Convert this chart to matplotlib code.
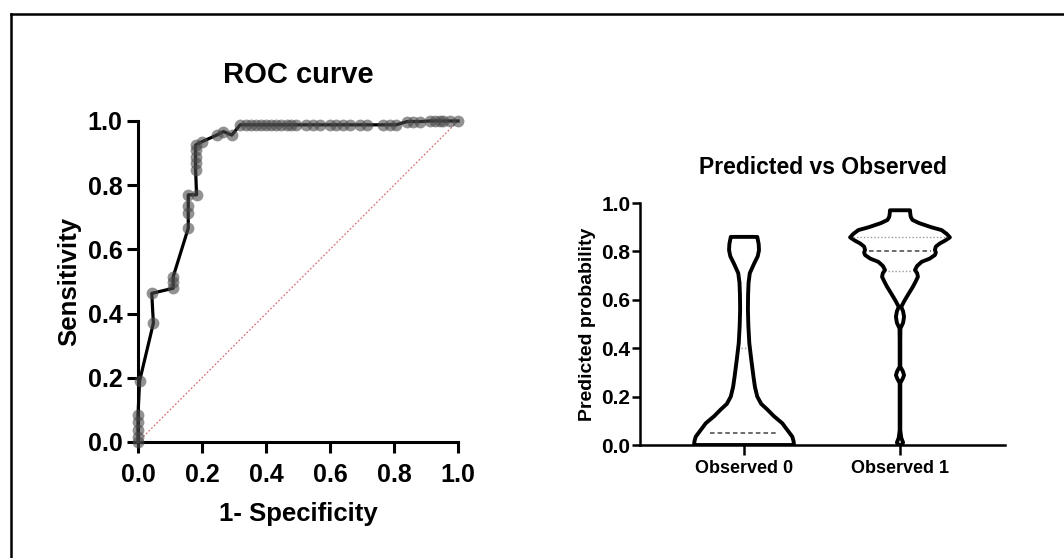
import matplotlib.pyplot as plt
from matplotlib.lines import Line2D

plt.rcParams['font.family'] = ['Liberation Sans', 'DejaVu Sans']
plt.rcParams['font.weight'] = 'bold'

# ROC curve points (1 - specificity, sensitivity)
fpr = [0.0, 0.0, 0.0, 0.0, 0.0, 0.005, 0.048, 0.043, 0.11, 0.11, 0.11, 0.157, 0.157, 0.157,
       0.157, 0.183, 0.18, 0.18, 0.18, 0.18, 0.18, 0.199, 0.246, 0.267, 0.293, 0.319,
       0.339, 0.354, 0.37, 0.385, 0.401, 0.417, 0.432, 0.448, 0.464, 0.479, 0.495, 0.526,
       0.547, 0.568, 0.599, 0.62, 0.641, 0.661, 0.693, 0.714, 0.766, 0.786, 0.807, 0.84,
       0.859, 0.88, 0.911, 0.927, 0.943, 0.953, 0.974, 1.0]
tpr = [0.0, 0.016, 0.037, 0.063, 0.084, 0.19, 0.37, 0.463, 0.479, 0.497, 0.515, 0.666, 0.712,
       0.735, 0.77, 0.77, 0.847, 0.868, 0.889, 0.91, 0.925, 0.935, 0.956, 0.967, 0.956, 0.988,
       0.988, 0.988, 0.988, 0.988, 0.988, 0.988, 0.988, 0.988, 0.988, 0.988, 0.988, 0.988,
       0.988, 0.988, 0.988, 0.988, 0.988, 0.988, 0.988, 0.988, 0.988, 0.988, 0.988, 0.998,
       0.998, 0.998, 1.0, 1.0, 1.0, 1.0, 1.0, 1.0]

# violin outlines: probability level and half-width (density)
obs0_y = [0.0, 0.015, 0.034, 0.06, 0.09, 0.12, 0.145, 0.17, 0.20, 0.24, 0.28, 0.35, 0.42,
          0.49, 0.558, 0.62, 0.67, 0.71, 0.75, 0.78, 0.805, 0.83, 0.85, 0.86]
obs0_w = [0.32, 0.318, 0.31, 0.28, 0.245, 0.19, 0.152, 0.11, 0.085, 0.07, 0.061, 0.047, 0.034,
          0.028, 0.025, 0.026, 0.029, 0.037, 0.065, 0.088, 0.096, 0.094, 0.088, 0.085]
obs1_y = [0.0, 0.01, 0.03, 0.06, 0.20, 0.256, 0.275, 0.289, 0.305, 0.324, 0.434, 0.482, 0.505,
          0.53, 0.552, 0.571, 0.6, 0.63, 0.654, 0.675, 0.695, 0.71, 0.723, 0.74, 0.757, 0.77,
          0.785, 0.795, 0.806, 0.82, 0.833, 0.845, 0.858, 0.872, 0.888, 0.9, 0.917, 0.93,
          0.943, 0.955, 0.97]
obs1_w = [0.008, 0.02, 0.008, 0.002, 0.002, 0.002, 0.018, 0.026, 0.018, 0.002, 0.002, 0.003,
          0.02, 0.026, 0.02, 0.008, 0.032, 0.06, 0.083, 0.1, 0.115, 0.11, 0.096, 0.11, 0.139,
          0.19, 0.224, 0.23, 0.224, 0.23, 0.256, 0.29, 0.32, 0.30, 0.267, 0.2, 0.122, 0.08,
          0.069, 0.066, 0.064]
obs0_quart = [0.0, 0.05, 0.40]
obs1_quart = [0.72, 0.80, 0.86]
groups = ['Observed 0', 'Observed 1']

fig = plt.figure(figsize=(10.64, 5.58), dpi=100)

# outer frame
fig.add_artist(Line2D([11/1064, 11/1064], [0, 1 - 14/558], color='black', lw=1.8))
fig.add_artist(Line2D([11/1064, 1], [1 - 14/558, 1 - 14/558], color='black', lw=1.8))

# ---- ROC curve
ax1 = fig.add_axes([0.1297, 0.2079, 0.3008, 0.5753])
ax1.plot([0, 1], [0, 1], color='#d9707a', lw=0.9, ls=(0, (1.5, 1.5)), clip_on=False)
ax1.plot(fpr, tpr, color='black', lw=2.3, zorder=3, clip_on=False)
ax1.plot(fpr, tpr, 'o', color='#4a4a4a', alpha=0.6, ms=8.5, mew=0, zorder=4, clip_on=False)
ax1.set_xlim(0, 1)
ax1.set_ylim(0, 1)
ticks = [0.0, 0.2, 0.4, 0.6, 0.8, 1.0]
ax1.set_xticks(ticks)
ax1.set_yticks(ticks)
ax1.set_xticklabels(['%.1f' % t for t in ticks])
ax1.set_yticklabels(['%.1f' % t for t in ticks])
ax1.tick_params(width=2.2, length=8, labelsize=18)
ax1.tick_params(axis='x', pad=7)
ax1.tick_params(axis='y', pad=3)
for s in ['top', 'right']:
    ax1.spines[s].set_visible(False)
for s in ['left', 'bottom']:
    ax1.spines[s].set_linewidth(2.2)
ax1.set_title('ROC curve', fontsize=21, fontweight='bold', pad=27)
ax1.set_xlabel('1- Specificity', fontsize=18.5, fontweight='bold', labelpad=11)
ax1.set_ylabel('Sensitivity', fontsize=18.5, fontweight='bold', labelpad=5)

# ---- violins
ax2 = fig.add_axes([0.6015, 0.2025, 0.343, 0.4337])
for i, (ys, ws) in enumerate([(obs0_y, obs0_w), (obs1_y, obs1_w)]):
    left = [i - w for w in ws]
    right = [i + w for w in ws]
    xs = left + right[::-1] + [left[0]]
    yy = ys + ys[::-1] + [ys[0]]
    ax2.fill(xs, yy, facecolor='white', edgecolor='black', lw=2.8, joinstyle='round', zorder=2)

# median (dashed) and quartiles (dotted)
ax2.hlines(obs0_quart[1], -0.22, 0.22, color='#444444', lw=1.1, ls=(0, (3, 2)), zorder=3)
ax2.hlines(obs0_quart[2], -0.02, 0.02, color='#999999', lw=1, ls=(0, (1, 1.5)), zorder=3)
ax2.hlines(obs1_quart[1], 1 - 0.2, 1 + 0.2, color='#444444', lw=1.1, ls=(0, (3, 2)), zorder=3)
ax2.hlines(obs1_quart[0], 1 - 0.08, 1 + 0.08, color='#999999', lw=1, ls=(0, (1, 1.5)), zorder=3)
ax2.hlines(obs1_quart[2], 1 - 0.3, 1 + 0.3, color='#999999', lw=1, ls=(0, (1, 1.5)), zorder=3)

ax2.set_xlim(-0.667, 1.673)
ax2.set_ylim(0, 1)
ax2.set_xticks([0, 1])
ax2.set_xticklabels(groups, fontsize=13)
ax2.set_yticks(ticks)
ax2.set_yticklabels(['%.1f' % t for t in ticks], fontsize=15)
ax2.tick_params(axis='y', width=1.8, length=6, pad=1)
ax2.tick_params(axis='x', width=1.8, length=7, pad=4)
for s in ['top', 'right']:
    ax2.spines[s].set_visible(False)
for s in ['left', 'bottom']:
    ax2.spines[s].set_linewidth(1.8)
ax2.set_title('Predicted vs Observed', fontsize=16.5, fontweight='bold', pad=21)
ax2.set_ylabel('Predicted probability', fontsize=14, fontweight='bold', labelpad=4)

fig.savefig('out.png', dpi=100)
